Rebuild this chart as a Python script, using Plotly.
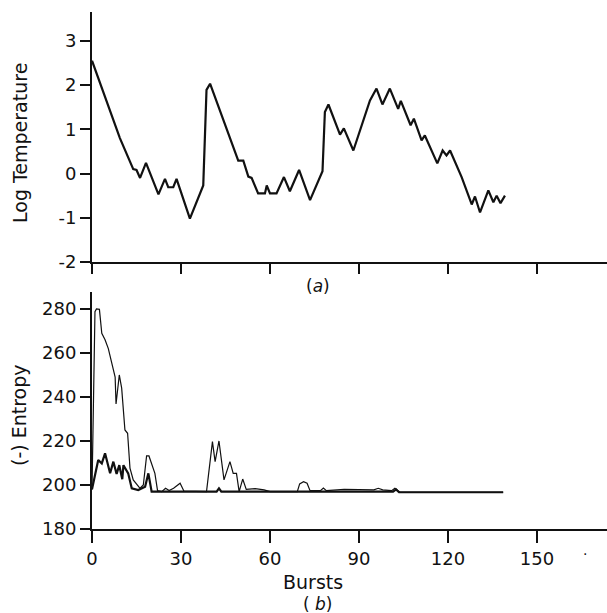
import plotly.graph_objects as go
from plotly.subplots import make_subplots

# ---- data ----
temp_x = [0, 9.4, 13.9, 15.0, 16.2, 18.2, 22.4, 24.6, 25.7, 27.4, 28.5, 33.0, 37.5, 38.6, 39.8,
          49.3, 51.0, 52.7, 53.8, 56.0, 58.3, 58.9, 60.0, 62.2, 64.7, 66.7, 69.8, 73.5, 77.7,
          78.5, 79.7, 83.6, 84.9, 88.1, 93.7, 95.9, 97.9, 100.4, 103.2, 104.1, 107.4, 108.5,
          111.1, 112.2, 116.4, 118.2, 119.5, 120.7, 124.6, 128.0, 129.1, 130.8, 133.6, 135.3,
          136.4, 137.7, 139.2]
temp_y = [2.55, 0.8, 0.1, 0.08, -0.1, 0.24, -0.47, -0.12, -0.31, -0.31, -0.12, -1.02, -0.27, 1.89, 2.03,
          0.29, 0.29, -0.07, -0.1, -0.45, -0.45, -0.27, -0.45, -0.45, -0.08, -0.4, 0.08, -0.6, 0.05,
          1.39, 1.56, 0.88, 1.02, 0.52, 1.65, 1.92, 1.56, 1.92, 1.46, 1.64, 1.09, 1.24,
          0.75, 0.86, 0.23, 0.52, 0.41, 0.52, -0.08, -0.70, -0.52, -0.88, -0.38, -0.65,
          -0.5, -0.67, -0.5]

ent1_x = [0, 1.0, 1.5, 2.5, 3.3, 4.4, 5.5, 7.2, 7.8, 8.1, 9.2, 10.0, 11.1, 12.0, 12.8, 13.9, 16.2, 17.3,
          18.4, 19.2, 21.2, 22.1, 23.5, 24.8, 26.0, 27.5, 29.7, 31.0, 38.6, 40.6, 41.5, 42.8,
          44.5, 46.5, 47.6, 48.7, 49.6, 50.8, 52.0, 55.0, 58.0, 60.0, 69.2, 70.0, 71.3, 72.5,
          73.5, 77.0, 78.0, 79.0, 85.0, 95.0, 96.5, 98.0, 101.0, 102.1, 103.2, 103.8, 138.6]
ent1_y = [198, 278.8, 280, 279.8, 268.9, 266, 262, 251.5, 249, 236.8, 250, 244, 225, 223.5, 207.7, 202.3, 198.5, 200,
          213.2, 213.2, 205.3, 197.4, 197, 198.5, 197.5, 198.5, 200.8, 197.2, 197, 219.7, 210.6, 220,
          202.3, 210.6, 205.3, 205.3, 197, 202.7, 198, 198.3, 197.8, 197, 197, 200.5, 201.5, 200.8,
          197.4, 197.4, 198.6, 197.4, 198, 197.8, 198.5, 197.8, 197.4, 198.5, 197.5, 196.7, 196.7]

ent2_x = [0, 2.1, 3.3, 4.4, 6.1, 7.2, 8.3, 9.2, 10.2, 10.6, 12.2, 13.4, 15.6, 17.9, 19.0, 20.1,
          42.0, 42.8, 43.6, 101.5, 102.5, 103.5, 138.6]
ent2_y = [198, 211.4, 209.8, 214.4, 205.3, 210.6, 205, 209, 202.6, 209, 205.3, 198.5, 197.7, 199.2, 205.3, 197,
          197, 198.5, 197, 197, 198, 196.7, 196.7]

x_ticks = [0, 30, 60, 90, 120, 150]
temp_ticks = [-2, -1, 0, 1, 2, 3]
temp_labels = ["-2", "-1", "0", "1", "2", "3"]
ent_ticks = [180, 200, 220, 240, 260, 280]

FONT = "DejaVu Sans"
INK = "#111111"

fig = make_subplots(rows=2, cols=1, vertical_spacing=0.0)

fig.add_trace(go.Scatter(x=temp_x, y=temp_y, mode="lines",
                         line=dict(color=INK, width=2.2), showlegend=False), row=1, col=1)
fig.add_trace(go.Scatter(x=ent2_x, y=ent2_y, mode="lines",
                         line=dict(color=INK, width=2.2), showlegend=False), row=2, col=1)
fig.add_trace(go.Scatter(x=ent1_x, y=ent1_y, mode="lines",
                         line=dict(color=INK, width=1.2), showlegend=False), row=2, col=1)

axis_common = dict(showgrid=False, zeroline=False, showline=True, linecolor=INK, linewidth=2,
                   ticks="outside", tickcolor=INK, tickwidth=2, automargin=False,
                   tickfont=dict(family=FONT, size=18, color=INK))

fig.update_layout(
    width=607, height=613,
    margin=dict(l=92, r=0, t=12, b=84),
    plot_bgcolor="white", paper_bgcolor="white",
    xaxis=dict(axis_common, domain=[0, 1], range=[0, 173.6], tickvals=x_ticks,
               showticklabels=False, ticklen=10, anchor="y"),
    yaxis=dict(axis_common, domain=[0.5164, 1], range=[-2, 3.65], tickvals=temp_ticks,
               ticktext=temp_labels, ticklen=10, anchor="x"),
    xaxis2=dict(axis_common, domain=[0, 1], range=[0, 173.6], tickvals=x_ticks,
                ticklen=12, anchor="y2"),
    yaxis2=dict(axis_common, domain=[0, 0.4584], range=[180, 287.7], tickvals=ent_ticks,
                ticklen=10, anchor="x2"),
)

annotations = [
    dict(text="Log Temperature", px=20, py=143, angle=-90, size=19),
    dict(text="(-) Entropy", px=19, py=415, angle=-90, size=19),
    dict(text="Bursts", px=313, py=582, angle=0, size=19),
    dict(text="(<i>a</i>)", px=318, py=286, angle=0, size=17),
    dict(text="( <i>b</i>)", px=317, py=604, angle=0, size=17),
    dict(text=".", px=585, py=550, angle=0, size=14),
]
plot_w = 607 - 92
plot_h = 613 - 12 - 84
for a in annotations:
    fx = (a["px"] - 92) / plot_w
    fy = (613 - 84 - a["py"]) / plot_h
    fig.add_annotation(text=a["text"], textangle=a["angle"], x=fx, y=fy,
                       xref="paper", yref="paper", xanchor="center", yanchor="middle",
                       showarrow=False, font=dict(family=FONT, size=a["size"], color=INK))

fig.write_html("out.html", config={"displayModeBar": False},
               post_script="document.body.style.margin='0';")
